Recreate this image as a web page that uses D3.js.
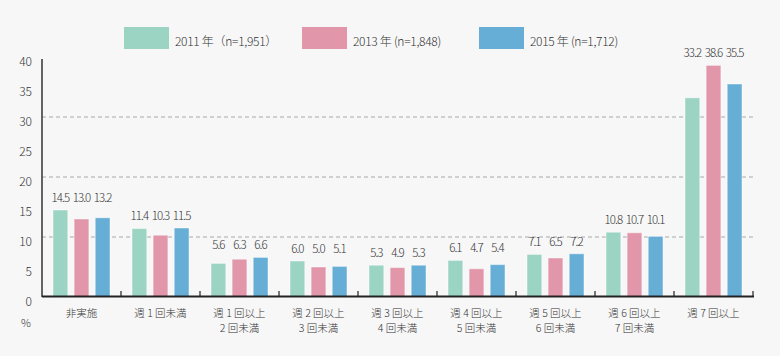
<!DOCTYPE html>
<html><head><meta charset="utf-8">
<script src="https://cdn.jsdelivr.net/npm/d3@7"></script>
<style>
html,body{margin:0;padding:0;background:#f7f7f7;}
svg{display:block;font-family:"Noto Sans CJK JP","Noto Sans",sans-serif;font-weight:300;}
</style></head>
<body>
<svg id="chart" width="780" height="356"></svg>
<script>
const categories = [
  ["非実施"],
  ["週 1 回未満"],
  ["週 1 回以上", "2 回未満"],
  ["週 2 回以上", "3 回未満"],
  ["週 3 回以上", "4 回未満"],
  ["週 4 回以上", "5 回未満"],
  ["週 5 回以上", "6 回未満"],
  ["週 6 回以上", "7 回未満"],
  ["週 7 回以上"]
];
const seriesNames = ["2011 年（n=1,951）", "2013 年 (n=1,848)", "2015 年 (n=1,712)"];
const values2011 = [14.5, 11.4, 5.6, 6.0, 5.3, 6.1, 7.1, 10.8, 33.2];
const values2013 = [13.0, 10.3, 6.3, 5.0, 4.9, 4.7, 6.5, 10.7, 38.6];
const values2015 = [13.2, 11.5, 6.6, 5.1, 5.3, 5.4, 7.2, 10.1, 35.5];
const yTicks = [0, 5, 10, 15, 20, 25, 30, 35, 40];
const gridValues = [10, 20, 30];
const colors = ["#9cd4c4", "#e196aa", "#66aed6"];

(function(){
const series = [values2011, values2013, values2015];
const svg = d3.select("#chart");
const L = 42, R = 753, T = 57, B = 297;

const catKeys = categories.map(c => c.join(" "));
const x = d3.scaleBand().domain(catKeys).range([L, R]).paddingInner(0).paddingOuter(0);
const xi = d3.scaleBand().domain([0,1,2]).range([11, x.bandwidth() - 11]).paddingInner(0.3).paddingOuter(0);
const y = d3.scaleLinear().domain([0, 40]).range([B, T]);

// grid lines
svg.append("g").selectAll("line").data(gridValues).join("line")
  .attr("x1", L).attr("x2", R)
  .attr("y1", d => y(d)).attr("y2", d => y(d))
  .attr("stroke", "#a8a8a8").attr("stroke-width", 1).attr("stroke-dasharray", "4,3");

// bars
const groups = svg.append("g").selectAll("g").data(categories).join("g")
  .attr("transform", (d, i) => `translate(${x(catKeys[i])},0)`);
groups.each(function(d, i) {
  const g = d3.select(this);
  const vals = series.map(s => s[i]);
  g.selectAll("rect").data(vals).join("rect")
    .attr("x", (v, j) => xi(j)).attr("width", xi.bandwidth())
    .attr("y", v => y(v)).attr("height", v => y(0) - y(v))
    .attr("fill", (v, j) => colors[j])
    .attr("stroke", "rgba(255,255,255,0.45)").attr("stroke-width", 1);
  const ly = y(d3.max(vals)) - 8;
  g.selectAll("text").data(vals).join("text")
    .attr("x", (v, j) => xi(j) + xi.bandwidth() / 2)
    .attr("y", ly)
    .attr("text-anchor", "middle")
    .attr("font-size", 11.5).attr("letter-spacing", "-0.9px")
    .attr("fill", "#333")
    .text(v => v.toFixed(1));
});

// y axis
const yAxis = svg.append("g").attr("transform", `translate(${L},0)`)
  .call(d3.axisLeft(y).tickValues(yTicks).tickSize(0).tickPadding(10).tickFormat(d3.format("d")));
yAxis.select(".domain").attr("stroke", "#333").attr("stroke-width", 1.5)
  .attr("d", `M0,${T + 2}V${B}`);
yAxis.selectAll("text").attr("font-size", 12).attr("fill", "#333")
  .attr("font-family", "'Noto Sans CJK JP','Noto Sans',sans-serif")
  .attr("transform", "translate(0,5)");

// x axis
const xBoundaries = catKeys.map(k => x(k) + x.bandwidth());
svg.append("line").attr("x1", L).attr("x2", R + 1)
  .attr("y1", B - 0.5).attr("y2", B - 0.5)
  .attr("stroke", "#222").attr("stroke-width", 2);
svg.append("g").selectAll("line").data(xBoundaries).join("line")
  .attr("x1", d => d).attr("x2", d => d)
  .attr("y1", B - 6).attr("y2", B)
  .attr("stroke", "#222").attr("stroke-width", 1.2);

// category labels (one text element per line)
const lines = [];
categories.forEach((c, i) => c.forEach((line, k) => lines.push({i, k, line})));
svg.append("g").selectAll("text").data(lines).join("text")
  .attr("text-anchor", "middle").attr("font-size", 10.5).attr("fill", "#333")
  .attr("x", d => x(catKeys[d.i]) + x.bandwidth() / 2)
  .attr("y", d => 317 + d.k * 15.3)
  .text(d => d.line);

svg.append("text").attr("x", 26).attr("y", 327).attr("text-anchor", "middle")
  .attr("font-size", 11).attr("fill", "#333").text("%");

// legend
const legendX = [124, 302, 479];
const lg = svg.append("g").selectAll("g").data(seriesNames).join("g")
  .attr("transform", (d, i) => `translate(${legendX[i]},27)`);
lg.append("rect").attr("width", 45).attr("height", 22).attr("fill", (d, i) => colors[i]);
lg.append("text").attr("x", 51).attr("y", 19).attr("font-size", 12).attr("fill", "#333")
  .attr("letter-spacing", "-0.3px").text(d => d);
})();
</script>
</body></html>
